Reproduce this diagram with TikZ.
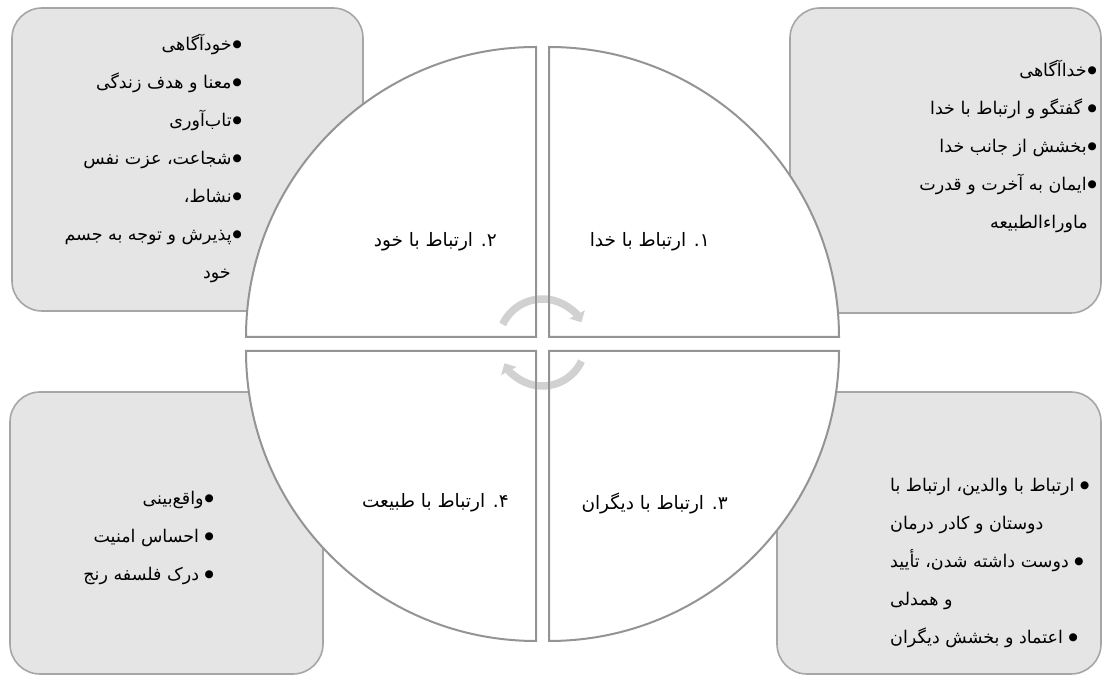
\documentclass[tikz,border=0pt]{standalone}
\usepackage{fontspec}
\usepackage{tikz}
\usetikzlibrary{arrows.meta}
\TeXXeTstate=1
\newfontfamily\persianfont[Script=Arabic]{DejaVu Sans}
\newcommand{\fatext}[1]{\beginR#1\endR}
\newcommand{\blt}{\raisebox{3pt}{\fontsize{10.5}{11}\selectfont ●}}

\begin{document}
\begin{tikzpicture}[
    x=1pt,y=1pt,
    box/.style={fill=black!10,draw=black!35,line width=1.6pt,rounded corners=30pt},
    quad/.style={fill=white,draw=black!42,line width=2pt},
    edge/.style={draw=black!42,line width=2pt},
    cyc/.style={draw=black!18,line width=7.5pt,-{Triangle[width=17pt,length=9pt]}},
    title/.style={font=\persianfont\fontsize{18.5}{22}\selectfont,inner sep=0pt},
    items/.style={font=\persianfont\fontsize{17.5}{38}\selectfont,inner sep=0pt}
  ]
  \useasboundingbox (0,0) rectangle (1104,677);

  \draw[box] (12,366) rectangle (363,669);
  \draw[box] (790,364) rectangle (1101,669);
  \draw[box] (10,3) rectangle (323,285);
  \draw[box] (777,3) rectangle (1101,285);

  \coordinate (c) at (542.5,334);
  \path[quad] (549,340) -- (839,340) arc[start angle=0,end angle=90,radius=290] -- cycle;
  \path[quad] (536,340) -- (536,630) arc[start angle=90,end angle=180,radius=290] -- cycle;
  \path[quad] (536,326) -- (246,326) arc[start angle=180,end angle=270,radius=290] -- cycle;
  \path[quad] (549,326) -- (549,36) arc[start angle=270,end angle=360,radius=290] -- cycle;

  \draw[cyc] (c) ++(155:44) arc[start angle=155,end angle=28,radius=44];
  \draw[cyc] (c) ++(-25:43) arc[start angle=-25,end angle=-152,radius=43];
  \draw[edge] (536,630) -- (536,340) (549,630) -- (549,340)
    (536,36) -- (536,326) (549,36) -- (549,326);

  \node[title,anchor=east] (q1) at (710,435) {\fatext{۱\kern0pt. ارتباط با خدا}};
  \node[title,anchor=east] (q2) at (497,435) {\fatext{۲\kern0pt. ارتباط با خود}};
  \node[title,anchor=east] (q3) at (728,174) {\fatext{۳\kern0pt. ارتباط با دیگران}};
  \node[title,anchor=east] (q4) at (509,174) {\fatext{۴\kern0pt. ارتباط با طبیعت}};

  \node[items,align=right,anchor=east] (t2) at (242,519) {%
    \fatext{\blt\kern1pt خودآگاهی}\\
    \fatext{\blt\kern1pt معنا و هدف زندگی}\\
    \fatext{\blt\kern1pt تاب‌آوری}\\
    \fatext{\blt\kern1pt شجاعت\kern0pt، عزت نفس}\\
    \fatext{\blt\kern1pt نشاط\kern0pt،}\\
    \fatext{\blt\kern1pt پذیرش و توجه به جسم}\\
    \fatext{خود}\hspace*{11pt}};
  \node[items,align=right,anchor=east] (t1) at (1097,531) {%
    \fatext{\blt\kern1pt خداآگاهی}\\
    \fatext{\blt\ گفتگو و ارتباط با خدا}\\
    \fatext{\blt\kern1pt بخشش از جانب خدا}\\
    \fatext{\blt\kern1pt ایمان به آخرت و قدرت}\\
    \fatext{ماوراءالطبیعه}\hspace*{9pt}};
  \node[items,align=right,anchor=east] (t4) at (214,139.5) {%
    \fatext{\blt\kern1pt واقع‌بینی}\\
    \fatext{\blt\ احساس امنیت}\\
    \fatext{\blt\ درک فلسفه رنج}};
  \node[items,align=left,anchor=west] (t3) at (890,114) {%
    \fatext{\blt\ ارتباط با والدین\kern0pt، ارتباط با}\\
    \fatext{دوستان و کادر درمان}\\
    \fatext{\blt\ دوست داشته شدن\kern0pt، تأیید}\\
    \fatext{و همدلی}\\
    \fatext{\blt\ اعتماد و بخشش دیگران}};
\end{tikzpicture}
\end{document}
